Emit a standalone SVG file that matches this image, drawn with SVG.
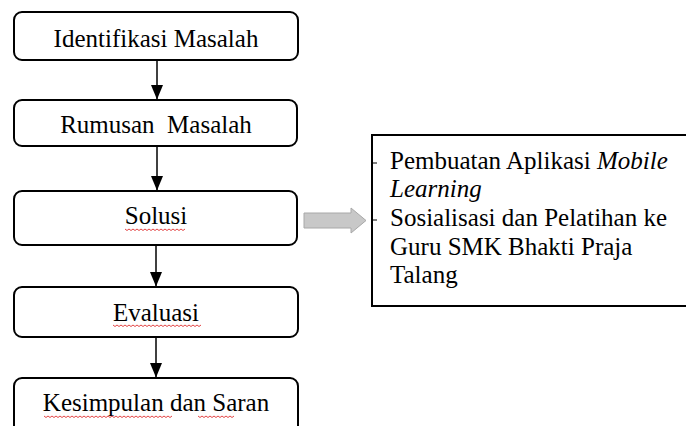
<svg xmlns="http://www.w3.org/2000/svg" width="686" height="426" viewBox="0 0 686 426">
<defs>
<style>
.box{fill:#fff;stroke:#000;stroke-width:2}
.t{font-family:"Liberation Serif","Times New Roman",serif;font-size:25px;fill:#000}
.c{text-anchor:middle}
.con{stroke:#000;stroke-width:1.5;fill:none}
.sq{fill:none;stroke:#e03030;stroke-width:0.9}
</style>
<marker id="ah" markerWidth="12" markerHeight="14" refX="6" refY="14" orient="auto" markerUnits="userSpaceOnUse" viewBox="0 0 12 14">
<path d="M0,0 L12,0 L6,14 Z" fill="#000"/>
</marker>
</defs>
<rect width="686" height="426" fill="#fff"/>
<g id="connectors">
<line class="con" x1="157" y1="61" x2="157" y2="99"/>
<path d="M151,85 L163,85 L157,99.5 Z" fill="#000"/>
<line class="con" x1="157" y1="147" x2="157" y2="190"/>
<path d="M151,176 L163,176 L157,190.5 Z" fill="#000"/>
<line class="con" x1="156" y1="246" x2="156" y2="286"/>
<path d="M150,272 L162,272 L156,286.5 Z" fill="#000"/>
<line class="con" x1="156" y1="338" x2="156" y2="377"/>
<path d="M150,363 L162,363 L156,377.5 Z" fill="#000"/>
<path d="M304,213 L351,213 L351,208 L366,220.5 L351,233 L351,228 L304,228 Z" fill="#c8c8c8" stroke="#a8a8a8" stroke-width="1"/>
</g>
<g id="n1">
<rect class="box" x="14" y="12" width="284" height="48" rx="8"/>
<text class="t c" x="156" y="47">Identifikasi Masalah</text>
</g>
<g id="n2">
<rect class="box" x="14" y="100" width="283" height="46" rx="8"/>
<text class="t c" x="156" y="133" xml:space="preserve">Rumusan  Masalah</text>
</g>
<g id="n3">
<rect class="box" x="14" y="191" width="283" height="54" rx="8"/>
<text class="t c" x="156" y="224">Solusi</text>
<path class="sq" d="M125,229 l2,1.5 l2,-1.5 l2,1.5 l2,-1.5 l2,1.5 l2,-1.5 l2,1.5 l2,-1.5 l2,1.5 l2,-1.5 l2,1.5 l2,-1.5 l2,1.5 l2,-1.5 l2,1.5 l2,-1.5 l2,1.5 l2,-1.5 l2,1.5 l2,-1.5 l2,1.5 l2,-1.5 l2,1.5 l2,-1.5 l2,1.5 l2,-1.5 l2,1.5 l2,-1.5 l2,1.5 l2,-1.5"/>
</g>
<g id="n4">
<rect class="box" x="14" y="287" width="284" height="50" rx="8"/>
<text class="t c" x="156" y="321">Evaluasi</text>
<path class="sq" d="M113,325 l2,1.5 l2,-1.5 l2,1.5 l2,-1.5 l2,1.5 l2,-1.5 l2,1.5 l2,-1.5 l2,1.5 l2,-1.5 l2,1.5 l2,-1.5 l2,1.5 l2,-1.5 l2,1.5 l2,-1.5 l2,1.5 l2,-1.5 l2,1.5 l2,-1.5 l2,1.5 l2,-1.5 l2,1.5 l2,-1.5 l2,1.5 l2,-1.5 l2,1.5 l2,-1.5 l2,1.5 l2,-1.5 l2,1.5 l2,-1.5 l2,1.5 l2,-1.5 l2,1.5 l2,-1.5 l2,1.5 l2,-1.5 l2,1.5 l2,-1.5 l2,1.5 l2,-1.5 l2,1.5 l2,-1.5"/>
</g>
<g id="n5">
<rect class="box" x="14" y="378" width="284" height="60" rx="8"/>
<text class="t c" x="156" y="411">Kesimpulan dan Saran</text>
<path class="sq" d="M44,416 l2,1.5 l2,-1.5 l2,1.5 l2,-1.5 l2,1.5 l2,-1.5 l2,1.5 l2,-1.5 l2,1.5 l2,-1.5 l2,1.5 l2,-1.5 l2,1.5 l2,-1.5 l2,1.5 l2,-1.5 l2,1.5 l2,-1.5 l2,1.5 l2,-1.5 l2,1.5 l2,-1.5 l2,1.5 l2,-1.5 l2,1.5 l2,-1.5 l2,1.5 l2,-1.5 l2,1.5 l2,-1.5 l2,1.5 l2,-1.5 l2,1.5 l2,-1.5 l2,1.5 l2,-1.5 l2,1.5 l2,-1.5 l2,1.5 l2,-1.5 l2,1.5 l2,-1.5 l2,1.5 l2,-1.5 l2,1.5 l2,-1.5 l2,1.5 l2,-1.5 l2,1.5 l2,-1.5 l2,1.5 l2,-1.5 l2,1.5 l2,-1.5 l2,1.5 l2,-1.5 l2,1.5 l2,-1.5 l2,1.5 l2,-1.5 l2,1.5 l2,-1.5 l2,1.5 l2,-1.5"/>
<path class="sq" d="M198,416 l2,1.5 l2,-1.5 l2,1.5 l2,-1.5 l2,1.5 l2,-1.5 l2,1.5 l2,-1.5 l2,1.5 l2,-1.5 l2,1.5 l2,-1.5 l2,1.5 l2,-1.5 l2,1.5 l2,-1.5 l2,1.5 l2,-1.5"/>
</g>
<g id="n6">
<rect class="box" x="372" y="135" width="330" height="171"/>
<line x1="372" y1="163" x2="377" y2="163" stroke="#000" stroke-width="1"/>
<line x1="372" y1="220" x2="377" y2="220" stroke="#000" stroke-width="1"/>
<text class="t" x="390" y="169">Pembuatan Aplikasi <tspan font-style="italic">Mobile</tspan></text>
<text class="t" x="390" y="197" font-style="italic">Learning</text>
<text class="t" x="390" y="226">Sosialisasi dan Pelatihan ke</text>
<text class="t" x="390" y="255">Guru SMK Bhakti Praja</text>
<text class="t" x="390" y="283">Talang</text>
</g>
</svg>
